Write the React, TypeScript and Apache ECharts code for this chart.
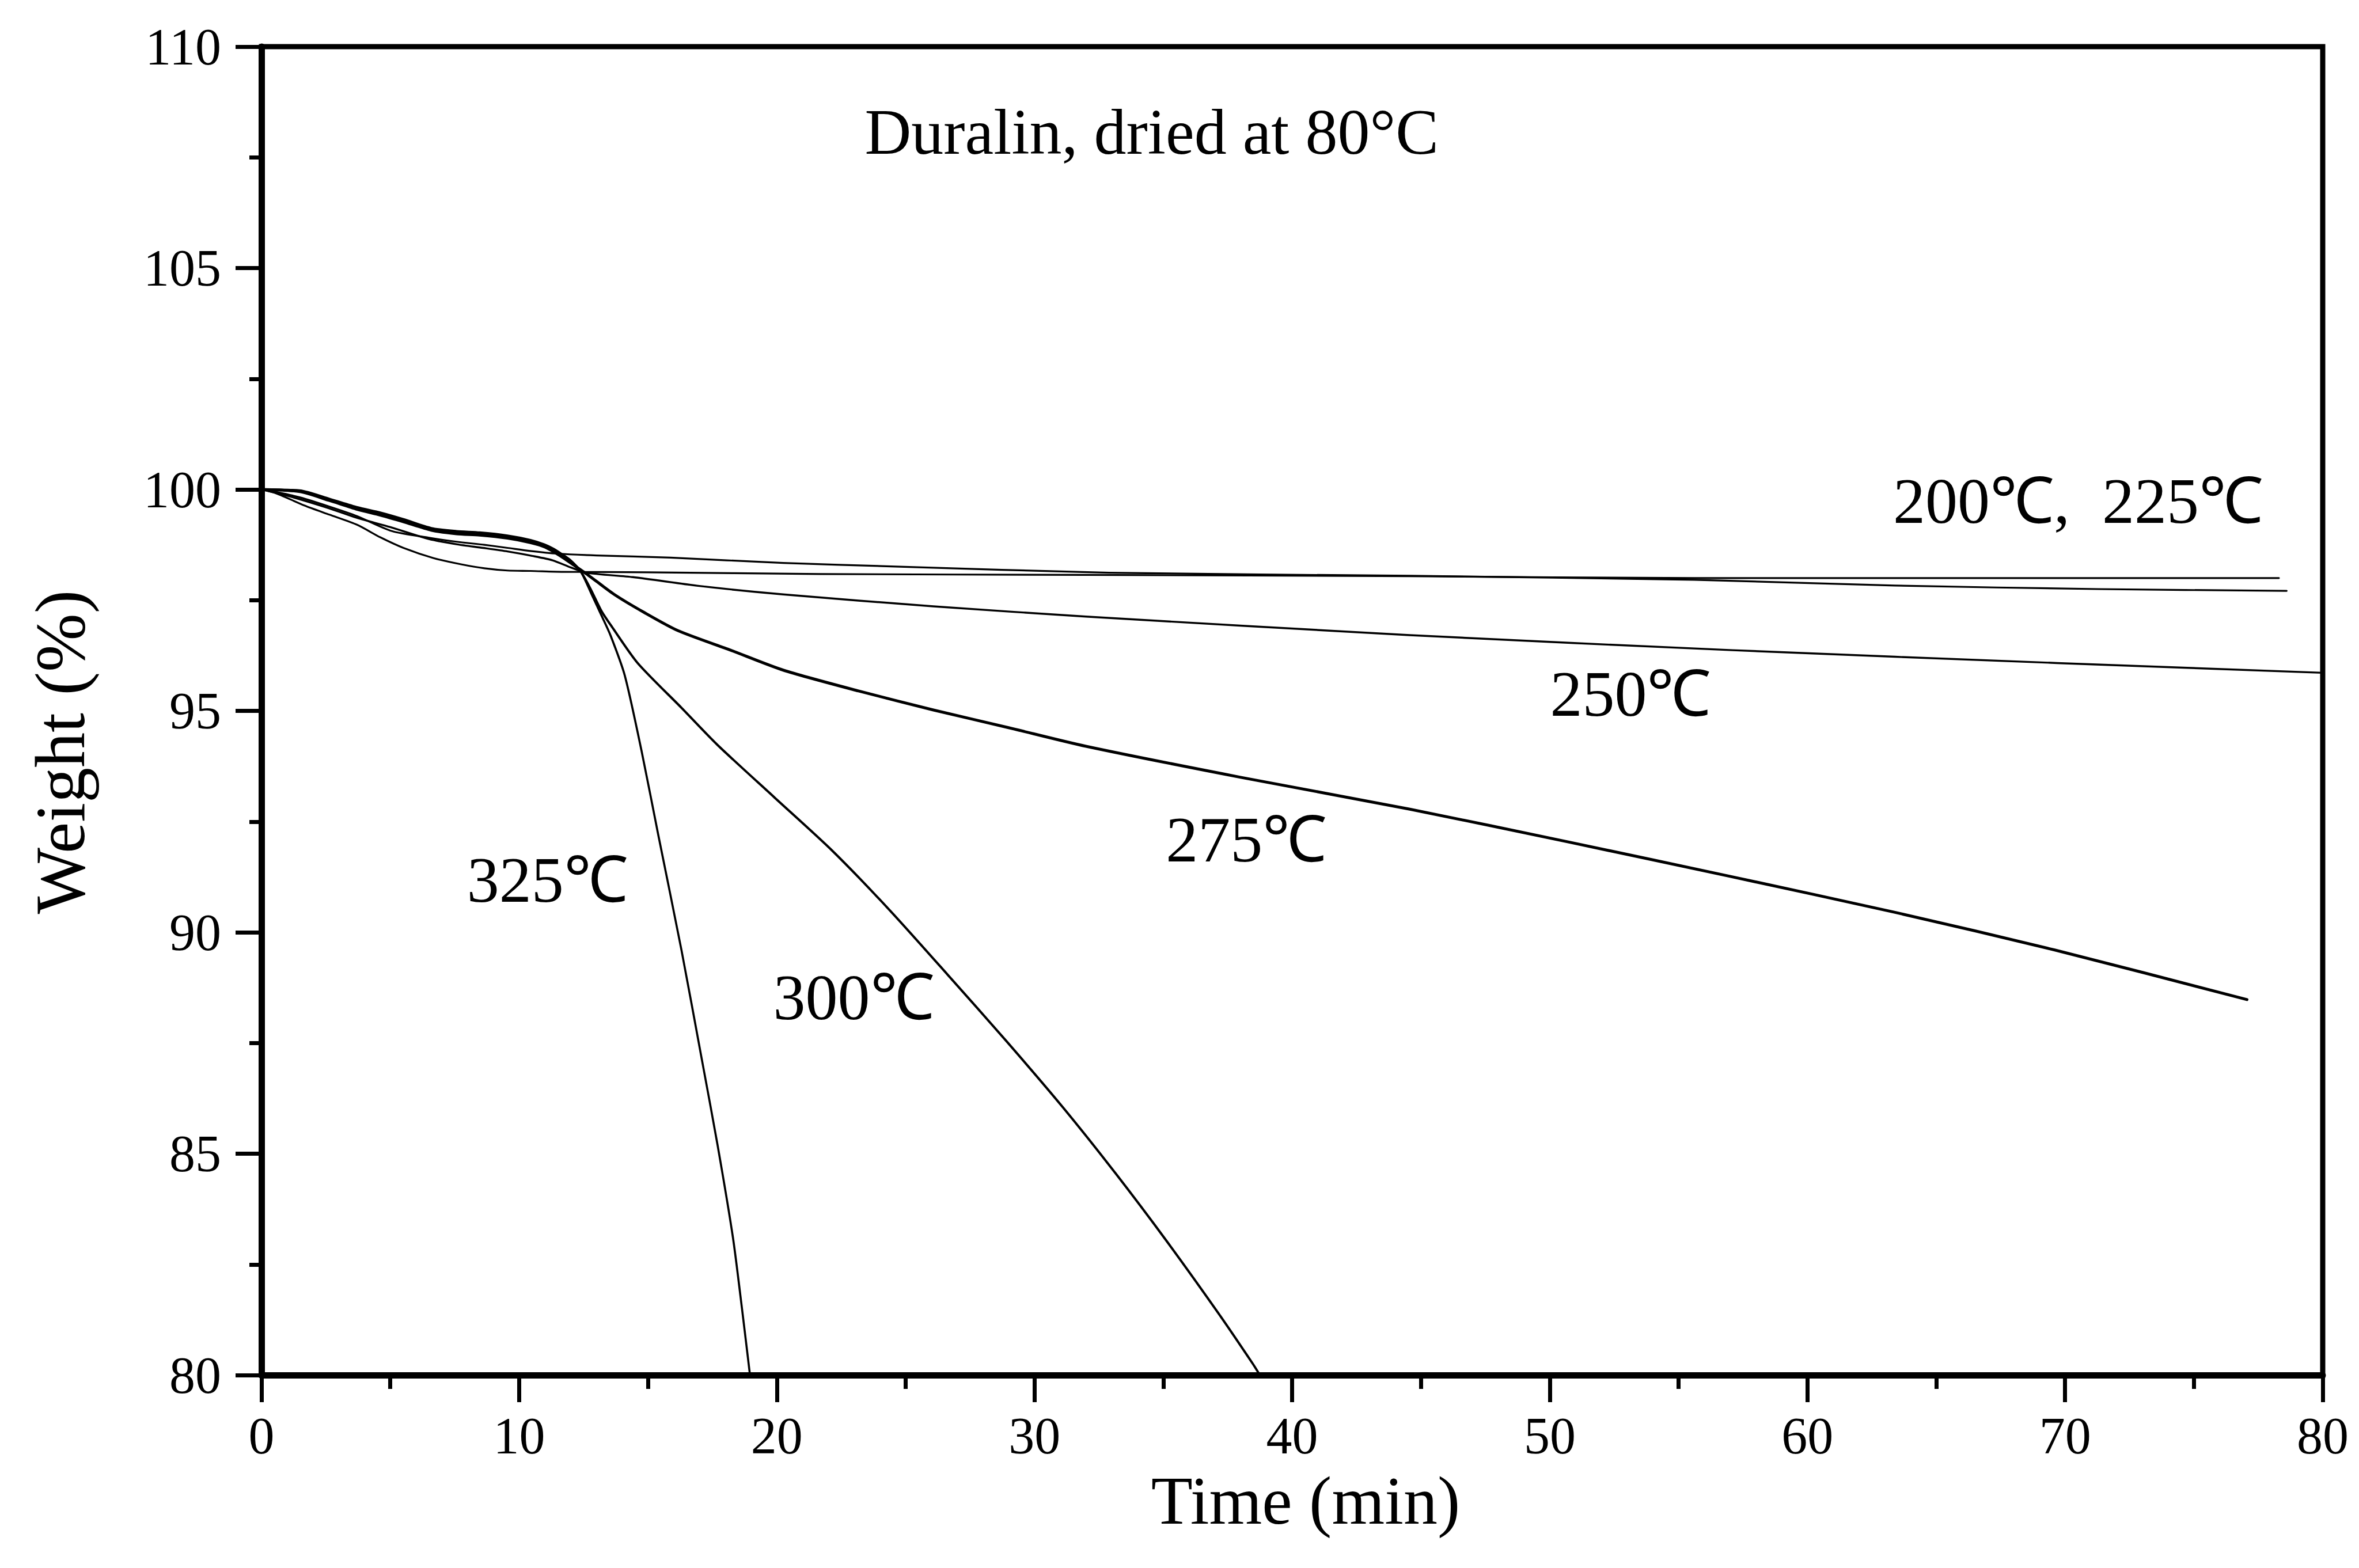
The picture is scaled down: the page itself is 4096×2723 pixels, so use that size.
import React, { useEffect, useRef } from "react";
import * as echarts from "echarts";

// Time (min) and weight (%), one pair of arrays per curve
const t200 = [0, 0.58, 1.66, 2.64, 3.72, 4.61, 5.51, 6.68, 7.75, 8.65, 9.54, 10.44, 11.7, 15, 21.7, 32, 44.6, 55.6, 63.4, 78.3];
const w200 = [100, 99.91, 99.64, 99.43, 99.2, 98.92, 98.68, 98.45, 98.31, 98.22, 98.17, 98.16, 98.14, 98.13, 98.09, 98.07, 98.04, 98.0, 98.0, 98.0];

const t225 = [0, 0.6, 1.5, 2.6, 3.7, 5.06, 6.5, 7.57, 8.65, 9.55, 10.44, 11.5, 13, 15.88, 20.25, 24.6, 32.9, 44.6, 55.6, 63.4, 71.3, 78.6];
const w225 = [100, 99.94, 99.82, 99.62, 99.4, 99.06, 98.91, 98.82, 98.75, 98.68, 98.61, 98.55, 98.51, 98.46, 98.34, 98.26, 98.12, 98.05, 97.96, 97.83, 97.75, 97.71];

const t250 = [0, 1, 2.6, 3.7, 5, 6.5, 7.6, 8.6, 9.55, 10.5, 11.3, 12.0, 12.6, 14.42, 17, 20.25, 26.08, 32.0, 44.57, 57.1, 69.7, 80];
const w250 = [100, 99.86, 99.58, 99.36, 99.15, 98.88, 98.76, 98.68, 98.6, 98.5, 98.4, 98.24, 98.12, 98.02, 97.82, 97.63, 97.36, 97.13, 96.71, 96.37, 96.08, 95.86];

const t275 = [0, 1.5, 2.64, 3.72, 4.61, 5.51, 6.59, 7.57, 8.47, 9.55, 10.44, 11.0, 11.6, 12.1, 12.67, 13.69, 14.86, 16.17, 18.21, 20.25, 23.17, 26.08, 29.0, 32.0, 38.0, 44.57, 50.8, 57.1, 63.4, 69.6, 77.06];
const w275 = [100, 99.95, 99.75, 99.55, 99.42, 99.27, 99.08, 99.0, 98.97, 98.9, 98.8, 98.7, 98.5, 98.3, 98.07, 97.63, 97.22, 96.81, 96.37, 95.92, 95.45, 95.02, 94.62, 94.2, 93.5, 92.78, 92.03, 91.25, 90.45, 89.6, 88.48];

const t300 = [0, 1.5, 2.6, 3.7, 4.6, 5.5, 6.6, 7.6, 8.5, 9.5, 10.4, 11.0, 11.5, 12.0, 12.4, 12.8, 13.2, 13.6, 14.6, 16.3, 17.7, 19.9, 22.14, 24.38, 26.62, 28.9, 31.1, 33.13, 35.14, 37.16, 38.47, 38.75];
const w300 = [100, 99.96, 99.77, 99.57, 99.45, 99.3, 99.1, 99.02, 98.99, 98.93, 98.84, 98.73, 98.58, 98.38, 98.14, 97.72, 97.25, 96.9, 96.08, 95.07, 94.23, 93.05, 91.85, 90.5, 89.05, 87.55, 86.05, 84.57, 83.02, 81.38, 80.26, 80.0];

const t325 = [0, 1.48, 2.64, 3.72, 4.61, 5.51, 6.59, 7.57, 8.47, 9.55, 10.44, 10.98, 11.34, 11.61, 12.0, 12.4, 12.8, 13.2, 13.55, 14.1, 14.75, 15.4, 16.3, 17.1, 17.7, 18.3, 18.65, 18.96];
const w325 = [100, 99.98, 99.79, 99.6, 99.48, 99.33, 99.13, 99.06, 99.03, 98.96, 98.86, 98.76, 98.66, 98.56, 98.4, 98.14, 97.65, 97.15, 96.7, 95.8, 94.1, 92.2, 89.6, 87.1, 85.2, 83.1, 81.5, 80.0];

// Axis ranges / ticks
const xMin = 0, xMax = 80, xStep = 10;
const yMin = 80, yMax = 110, yStep = 5;

// Annotations (data coordinates of their centres)
const noteTexts = ["200℃,  225℃", "250℃", "275℃", "300℃", "325℃"];
const noteX = [70.5, 53.13, 38.22, 22.98, 11.09];
const noteY = [99.74, 95.39, 92.1, 88.53, 91.18];
const titleText = "Duralin, dried at 80°C";
const titleX = 34.55;
const titleY = 108.07;
const xName = "Time (min)";
const yName = "Weight (%)";

const FONT = "'Liberation Serif', 'Times New Roman', serif";

function zip(t: number[], w: number[]) {
  return t.map((x, i) => [x, w[i]]);
}

export default function App() {
  const ref = useRef<HTMLDivElement>(null);
  useEffect(() => {
    if (!ref.current) return;
    const chart = echarts.init(ref.current, null, { renderer: "svg", width: 4096, height: 2723 });
    const curves = [
      { name: "200℃", t: t200, w: w200, lw: 3.2 },
      { name: "225℃", t: t225, w: w225, lw: 3.2 },
      { name: "250℃", t: t250, w: w250, lw: 3.4 },
      { name: "275℃", t: t275, w: w275, lw: 5 },
      { name: "300℃", t: t300, w: w300, lw: 4 },
      { name: "325℃", t: t325, w: w325, lw: 3.6 },
    ];
    const axisCommon = {
      type: "value",
      axisLine: { show: true, onZero: false, lineStyle: { color: "#000", width: 11 } },
      splitLine: { show: false },
    };
    chart.setOption({
      animation: false,
      backgroundColor: "#fff",
      grid: { left: 454, right: 63, top: 81, bottom: 335, show: true, borderColor: "#000", borderWidth: 9, backgroundColor: "transparent" },
      xAxis: {
        ...axisCommon,
        min: xMin,
        max: xMax,
        interval: xStep,
        axisTick: { show: true, length: 47, lineStyle: { color: "#000", width: 7 } },
        minorTick: { show: true, splitNumber: 2, length: 24, lineStyle: { color: "#000", width: 7 } },
        axisLabel: { color: "#000", fontFamily: FONT, fontSize: 90, margin: 60 },
      },
      yAxis: {
        ...axisCommon,
        min: yMin,
        max: yMax,
        interval: yStep,
        axisTick: { show: true, length: 45, lineStyle: { color: "#000", width: 7 } },
        minorTick: { show: true, splitNumber: 2, length: 21, lineStyle: { color: "#000", width: 7 } },
        axisLabel: { color: "#000", fontFamily: FONT, fontSize: 90, margin: 70 },
      },
      series: curves.map((c) => ({
        type: "line",
        name: c.name,
        data: zip(c.t, c.w),
        showSymbol: false,
        symbol: "none",
        smooth: 0.25,
        clip: true,
        lineStyle: { color: "#000", width: c.lw, join: "round", cap: "round" },
      })),
    });

    const toPx = (x: number, y: number) => chart.convertToPixel({ gridIndex: 0 }, [x, y]) as number[];
    const graphics: any[] = [];
    const tp = toPx(titleX, titleY);
    graphics.push({
      type: "text",
      x: tp[0],
      y: tp[1],
      style: { text: titleText, fontFamily: FONT, fontSize: 112, fill: "#000", align: "center", verticalAlign: "middle" },
    });
    noteTexts.forEach((txt, i) => {
      const p = toPx(noteX[i], noteY[i]);
      graphics.push({
        type: "text",
        x: p[0],
        y: p[1],
        style: { text: txt, fontFamily: FONT, fontSize: 112, fill: "#000", align: "center", verticalAlign: "middle" },
      });
    });
    graphics.push({
      type: "text",
      x: 2267,
      y: 2606,
      style: { text: xName, fontFamily: FONT, fontSize: 118, fill: "#000", align: "center", verticalAlign: "middle" },
    });
    graphics.push({
      type: "text",
      x: 104,
      y: 1306,
      rotation: Math.PI / 2,
      style: { text: yName, fontFamily: FONT, fontSize: 122, fill: "#000", align: "center", verticalAlign: "middle" },
    });
    chart.setOption({ graphic: graphics });
    return () => chart.dispose();
  }, []);
  return <div ref={ref} style={{ position: "fixed", left: 0, top: 0, width: 4096, height: 2723, background: "#fff" }} />;
}
